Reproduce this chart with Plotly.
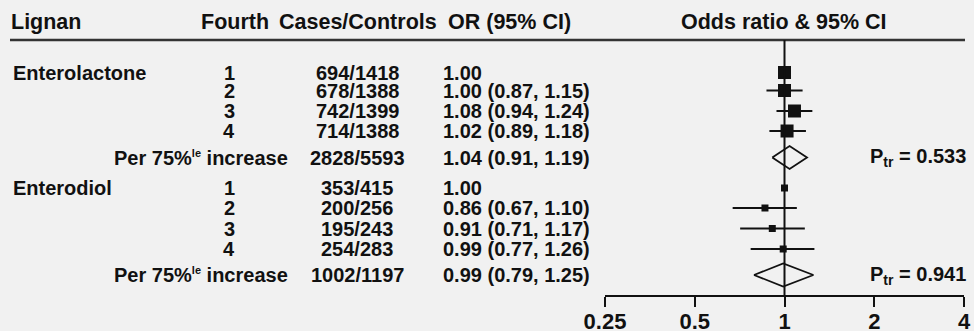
import plotly.graph_objects as go

# ---- data -------------------------------------------------------------
lignans = ["Enterolactone", "Enterodiol"]
fourths = ["1", "2", "3", "4"]

enl_counts = ["694/1418", "678/1388", "742/1399", "714/1388"]
enl_or = [1.00, 1.00, 1.08, 1.02]
enl_lo = [None, 0.87, 0.94, 0.89]
enl_hi = [None, 1.15, 1.24, 1.18]
enl_trend_counts = "2828/5593"
enl_trend = [1.04, 0.91, 1.19]
enl_p = "0.533"

end_counts = ["353/415", "200/256", "195/243", "254/283"]
end_or = [1.00, 0.86, 0.91, 0.99]
end_lo = [None, 0.67, 0.71, 0.77]
end_hi = [None, 1.10, 1.17, 1.26]
end_trend_counts = "1002/1197"
end_trend = [0.99, 0.79, 1.25]
end_p = "0.941"

tick_vals = [0.25, 0.5, 1, 2, 4]
tick_text = ["0.25", "0.5", "1", "2", "4"]

# ---- layout constants (pixel-based vertical scale) ---------------------
W, H = 974, 331
BG = "#f1f1f1"
INK = "#111111"
FONT = "Liberation Sans"
FS = 20          # table body
FS_HEAD = 21.5   # column headers
FS_TICK = 22     # axis tick labels
AXIS_Y = 295
HEADER_Y = 22
RULE_Y = 40
group_rows = [
    [72.5, 90.5, 111, 131, 157.5],
    [188, 208, 228.5, 249, 275],
]
square_sizes = [13, 7]
diamond_half = 11.5

groups = [
    dict(name=lignans[0], counts=enl_counts, orv=enl_or, lo=enl_lo, hi=enl_hi,
         tcounts=enl_trend_counts, trend=enl_trend, p=enl_p),
    dict(name=lignans[1], counts=end_counts, orv=end_or, lo=end_lo, hi=end_hi,
         tcounts=end_trend_counts, trend=end_trend, p=end_p),
]


def px(x):
    return x / W


def fmt_or(v, lo, hi):
    s = f"{v:.2f}"
    if lo is not None:
        s += f" ({lo:.2f}, {hi:.2f})"
    return s


fig = go.Figure()
annotations = []


def txt(x, y, text, anchor, size=FS):
    annotations.append(dict(
        x=px(x), y=y, xref="paper", yref="y", text=text, showarrow=False,
        xanchor=anchor, yanchor="middle", borderpad=0,
        font=dict(family=FONT, size=size, color=INK, weight="bold"),
    ))


# column headers
txt(10, HEADER_Y, "Lignan", "left", FS_HEAD)
txt(235, HEADER_Y, "Fourth", "center", FS_HEAD)
txt(358, HEADER_Y, "Cases/Controls", "center", FS_HEAD)
txt(447, HEADER_Y, "OR (95% CI)", "left", FS_HEAD)
txt(784, HEADER_Y, "Odds ratio &amp; 95% CI", "center", FS_HEAD)

for g, rows, msize in zip(groups, group_rows, square_sizes):
    # table text
    txt(12, rows[0], g["name"], "left")
    for i, q in enumerate(fourths):
        txt(229, rows[i], q, "center")
        txt(357, rows[i], g["counts"][i], "center")
        txt(442, rows[i], fmt_or(g["orv"][i], g["lo"][i], g["hi"][i]), "left")
    txt(289, rows[4],
        "Per 75%<sup><span style='font-size:11px'>le</span></sup> increase",
        "right")
    txt(357, rows[4], g["tcounts"], "center")
    est, tlo, thi = g["trend"]
    txt(442, rows[4], fmt_or(est, tlo, thi), "left")
    txt(967, rows[4], f"P<sub>tr</sub> = {g['p']}", "right")

    # point estimates with CI whiskers
    plus = [(h - v) if h is not None else 0 for v, h in zip(g["orv"], g["hi"])]
    minus = [(v - l) if l is not None else 0 for v, l in zip(g["orv"], g["lo"])]
    fig.add_trace(go.Scatter(
        x=g["orv"], y=rows[:4], mode="markers",
        marker=dict(symbol="square", size=msize, color=INK, line=dict(width=0)),
        error_x=dict(type="data", symmetric=False, array=plus, arrayminus=minus,
                     thickness=2, width=0, color=INK),
        showlegend=False, hoverinfo="skip",
    ))

    # trend diamond
    yc = rows[4]
    fig.add_trace(go.Scatter(
        x=[tlo, est, thi, est, tlo],
        y=[yc, yc - diamond_half, yc, yc + diamond_half, yc],
        mode="lines", fill="toself", fillcolor=BG,
        line=dict(color=INK, width=1.8),
        showlegend=False, hoverinfo="skip",
    ))

shapes = [
    # rule under the header
    dict(type="line", xref="paper", yref="y", x0=px(10), x1=px(965),
         y0=RULE_Y, y1=RULE_Y, line=dict(color="#333333", width=2.5)),
    # null line at OR = 1
    dict(type="line", xref="x", yref="y", x0=1, x1=1, y0=RULE_Y, y1=AXIS_Y,
         line=dict(color=INK, width=2), layer="above"),
]

fig.update_layout(
    width=W, height=H,
    margin=dict(l=0, r=0, t=0, b=0, pad=0, autoexpand=False),
    paper_bgcolor=BG, plot_bgcolor=BG,
    annotations=annotations, shapes=shapes,
    xaxis=dict(
        type="log", range=[-0.60206, 0.60206],
        domain=[px(605), px(964)],
        tickvals=tick_vals, ticktext=tick_text,
        showgrid=False, zeroline=False,
        showline=True, linecolor=INK, linewidth=2,
        ticks="outside", ticklen=10, tickwidth=2, tickcolor=INK,
        ticklabelstandoff=-4,
        tickfont=dict(family=FONT, size=FS_TICK, color=INK, weight="bold"),
        automargin=False,
    ),
    yaxis=dict(
        range=[AXIS_Y, 0], domain=[(H - AXIS_Y) / H, 1],
        visible=False, fixedrange=True, automargin=False,
    ),
)

fig.write_html("out.html")
